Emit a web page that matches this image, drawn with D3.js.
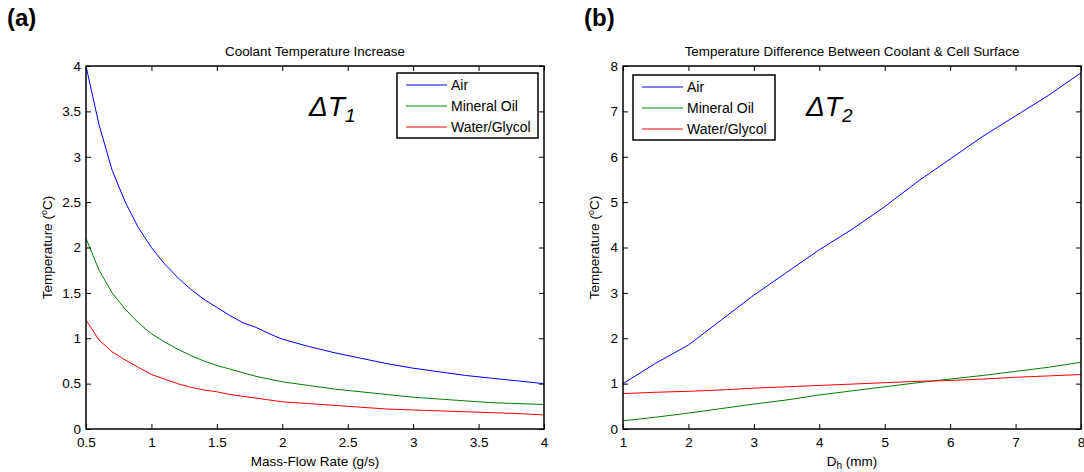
<!DOCTYPE html>
<html><head><meta charset="utf-8">
<script src="https://cdn.jsdelivr.net/npm/d3@7"></script>
<style>
body{margin:0;background:#fff;}
svg text{font-family:"Liberation Sans",Arial,sans-serif;fill:#000;}
</style></head>
<body><svg id="c" width="1084" height="472"></svg>
<script>
// ---- data ----
const seriesNames = ["Air", "Mineral Oil", "Water/Glycol"];
const seriesColors = ["#0000ff", "#008000", "#ff0000"];

const massFlow = [0.5,0.6,0.7,0.8,0.9,1.0,1.1,1.2,1.3,1.4,1.5,1.6,1.7,1.8,1.9,2.0,2.2,2.4,2.6,2.8,3.0,3.2,3.4,3.6,3.8,4.0];
const dT1Air   = [4.0,3.35,2.85,2.5,2.22,2.0,1.82,1.67,1.54,1.43,1.34,1.25,1.17,1.12,1.05,0.99,0.91,0.84,0.78,0.72,0.67,0.63,0.59,0.56,0.53,0.5];
const dT1Oil   = [2.1,1.75,1.5,1.32,1.17,1.05,0.96,0.88,0.81,0.75,0.70,0.66,0.62,0.58,0.55,0.52,0.48,0.44,0.41,0.38,0.35,0.33,0.31,0.29,0.28,0.27];
const dT1Water = [1.2,0.98,0.85,0.76,0.68,0.6,0.55,0.5,0.46,0.43,0.41,0.38,0.36,0.34,0.32,0.3,0.28,0.26,0.24,0.22,0.21,0.2,0.19,0.18,0.17,0.155];

const dh       = [1,1.5,2,2.5,3,3.5,4,4.5,5,5.5,6,6.5,7,7.5,8];
const dT2Air   = [1.0,1.45,1.85,2.4,2.95,3.45,3.95,4.4,4.9,5.45,5.95,6.45,6.9,7.35,7.85];
const dT2Oil   = [0.18,0.26,0.35,0.45,0.55,0.64,0.75,0.84,0.93,1.02,1.1,1.18,1.27,1.36,1.47];
const dT2Water = [0.78,0.81,0.83,0.86,0.9,0.93,0.96,0.99,1.02,1.05,1.07,1.1,1.14,1.17,1.2];

const xTicksA = [0.5,1,1.5,2,2.5,3,3.5,4];
const yTicksA = [0,0.5,1,1.5,2,2.5,3,3.5,4];
const xTicksB = [1,2,3,4,5,6,7,8];
const yTicksB = [0,1,2,3,4,5,6,7,8];

const svg = d3.select("#c");
svg.append("rect").attr("width",1084).attr("height",472).attr("fill","#fff");

function panel(o){
  const g = svg.append("g");
  const x = d3.scaleLinear().domain(o.xd).range([o.x0,o.x1]);
  const y = d3.scaleLinear().domain(o.yd).range([o.y1,o.y0]);
  const clipId = "clip"+o.id;
  svg.append("clipPath").attr("id",clipId).append("rect")
     .attr("x",o.x0).attr("y",o.y0).attr("width",o.x1-o.x0).attr("height",o.y1-o.y0);
  const line = d3.line().x(d=>x(d[0])).y(d=>y(d[1]));
  o.series.forEach((s,i)=>{
    g.append("path").attr("d",line(o.xs.map((v,k)=>[v,s[k]])))
      .attr("fill","none").attr("stroke",seriesColors[i]).attr("stroke-width",1)
      .attr("clip-path","url(#"+clipId+")");
  });
  const fmt = d=>String(d);
  g.append("g").attr("transform",`translate(0,${o.y1})`)
    .call(d3.axisBottom(x).tickValues(o.xt).tickSizeInner(-5).tickSizeOuter(0).tickPadding(8).tickFormat(fmt));
  g.append("g").attr("transform",`translate(0,${o.y0})`)
    .call(d3.axisTop(x).tickValues(o.xt).tickSizeInner(-5).tickSizeOuter(0).tickFormat(""));
  g.append("g").attr("transform",`translate(${o.x0},0)`)
    .call(d3.axisLeft(y).tickValues(o.yt).tickSizeInner(-5).tickSizeOuter(0).tickPadding(5).tickFormat(fmt));
  g.append("g").attr("transform",`translate(${o.x1},0)`)
    .call(d3.axisRight(y).tickValues(o.yt).tickSizeInner(-5).tickSizeOuter(0).tickFormat(""));
  g.selectAll(".domain").remove();
  g.selectAll(".tick line").attr("stroke","#000").attr("stroke-width",1);
  g.selectAll(".tick text").attr("font-size",13.5).attr("fill","#000")
    .attr("font-family","'Liberation Sans',Arial,sans-serif");
  g.append("rect").attr("x",o.x0).attr("y",o.y0).attr("width",o.x1-o.x0).attr("height",o.y1-o.y0)
    .attr("fill","none").attr("stroke","#000").attr("stroke-width",1.5);
  g.append("text").attr("x",(o.x0+o.x1)/2).attr("y",o.y0-10).attr("text-anchor","middle")
    .attr("font-size",13.4).text(o.title);
  const yl = g.append("text").attr("transform",`translate(${o.x0-o.ylOff},${(o.y0+o.y1)/2}) rotate(-90)`)
    .attr("text-anchor","middle").attr("font-size",13.5);
  yl.append("tspan").text("Temperature (");
  yl.append("tspan").attr("font-size",9).attr("dy",-5).text("o");
  yl.append("tspan").attr("dy",5).text("C)");
  const xl = g.append("text").attr("x",(o.x0+o.x1)/2).attr("y",o.y1+37).attr("text-anchor","middle").attr("font-size",13.5);
  o.xlabel(xl);
  svg.append("text").attr("x",o.letterX).attr("y",26).attr("font-family","'Liberation Serif','Times New Roman',serif")
    .attr("font-weight","bold").attr("font-size",24).text(o.letter);
  const dl = g.append("text").attr("x",o.dx).attr("y",o.dy).attr("font-size",28).attr("font-style","italic");
  dl.append("tspan").text("ΔT");
  dl.append("tspan").attr("font-size",19).attr("dy",6).text(o.sub);
  const lg = g.append("g");
  lg.append("rect").attr("x",o.lx).attr("y",o.ly).attr("width",o.lw).attr("height",65)
    .attr("fill","#fff").attr("stroke","#000").attr("stroke-width",1.5);
  seriesNames.forEach((n,i)=>{
    const yy = o.ly+12+i*21;
    lg.append("line").attr("x1",o.lx+9).attr("x2",o.lx+50).attr("y1",yy).attr("y2",yy)
      .attr("stroke",seriesColors[i]).attr("stroke-width",1);
    lg.append("text").attr("x",o.lx+54).attr("y",yy+5).attr("font-size",14).text(n);
  });
}

panel({id:"a", x0:86, x1:544, y0:66, y1:429, xd:[0.5,4], yd:[0,4], xs:massFlow,
  series:[dT1Air,dT1Oil,dT1Water], xt:xTicksA, yt:yTicksA,
  title:"Coolant Temperature Increase", ylOff:34,
  xlabel:t=>t.text("Mass-Flow Rate (g/s)"),
  letter:"(a)", letterX:7, dx:309, dy:116, sub:"1",
  lx:397, ly:73, lw:141});

panel({id:"b", x0:623, x1:1081, y0:66, y1:429, xd:[1,8], yd:[0,8], xs:dh,
  series:[dT2Air,dT2Oil,dT2Water], xt:xTicksB, yt:yTicksB,
  title:"Temperature Difference Between Coolant & Cell Surface", ylOff:24,
  xlabel:t=>{t.append("tspan").text("D");t.append("tspan").attr("font-size",10).attr("dy",3).text("h");t.append("tspan").attr("dy",-3).text(" (mm)");},
  letter:"(b)", letterX:584, dx:806, dy:116, sub:"2",
  lx:633, ly:75, lw:142});
</script></body></html>
